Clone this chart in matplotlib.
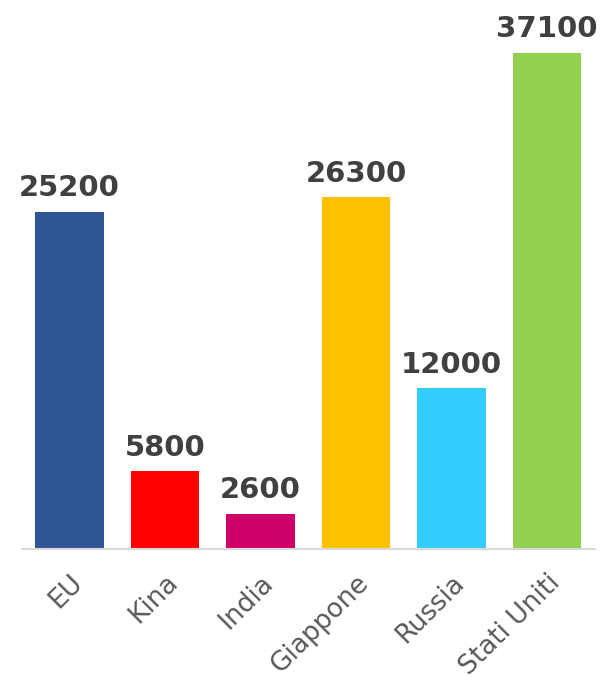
import matplotlib
matplotlib.use('Agg')
import matplotlib.pyplot as plt

# data
paesi = ['EU', 'Kina', 'India', 'Giappone', 'Russia', 'Stati Uniti']
valori = [25200, 5800, 2600, 26300, 12000, 37100]
colori = ['#2F5597', '#FF0000', '#CC0066', '#FFC000', '#33CCFF', '#92D050']

plt.rcParams['font.family'] = ['DejaVu Sans']

fig = plt.figure(figsize=(6.07, 6.8), dpi=100)
ax = fig.add_axes([0.036, 0.193, 0.944, 0.786])

x = range(len(paesi))
bars = ax.bar(x, valori, width=0.72, color=colori)

# value labels above the bars
for b, v in zip(bars, valori):
    ax.annotate(str(v), (b.get_x() + b.get_width() / 2, v),
                textcoords='offset points', xytext=(0, 7),
                ha='center', va='bottom', fontsize=21, fontweight='heavy',
                color='#404040')

ax.set_xlim(-0.5, len(paesi) - 0.5)
ax.set_ylim(0, 40000)
ax.set_xticks(list(x))
ax.set_xticklabels(paesi, rotation=45, ha='right', rotation_mode='anchor',
                   fontsize=19, color='#595959')
ax.tick_params(axis='x', length=0, pad=15)
ax.set_yticks([])

for s in ['top', 'right', 'left']:
    ax.spines[s].set_visible(False)
ax.spines['bottom'].set_color('#D9D9D9')
ax.spines['bottom'].set_linewidth(1.5)

plt.savefig('out.png', dpi=100)
